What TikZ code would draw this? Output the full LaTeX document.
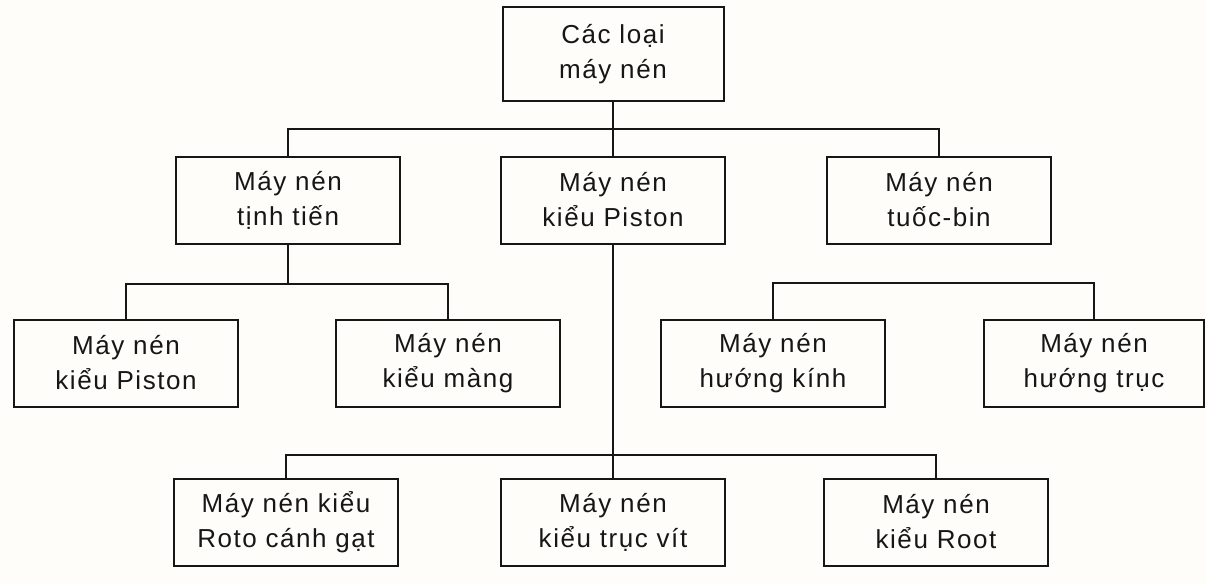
\documentclass[tikz,border=0pt]{standalone}
\usepackage{fontspec}
\newfontfamily\boxfont[LetterSpace=6]{Liberation Sans}
\definecolor{ink}{RGB}{22,22,22}
\definecolor{paper}{RGB}{254,253,250}
\begin{document}
\begin{tikzpicture}[x=1pt,y=-1pt,
  box/.style={draw=ink, line width=2pt, rectangle, minimum width=224pt,
    minimum height=87pt, inner sep=0pt, align=center,
    font={\boxfont\fontsize{26}{35}\selectfont}, text=ink},
  link/.style={draw=ink, line width=2pt}]
\fill[paper] (0,0) rectangle (1207,584);
\useasboundingbox (0,0) rectangle (1207,584);
% level 0
\node[box, minimum width=221pt, minimum height=94pt] (top) at (613,54) {Các loại\\máy nén};
% level 1
\node[box] (tt) at (288,200) {Máy nén\\tịnh tiến};
\node[box] (mp) at (613,200) {Máy nén\\kiểu Piston};
\node[box] (tb) at (939,200) {Máy nén\\tuốc-bin};
% level 2
\node[box] (lp) at (126,363) {Máy nén\\kiểu Piston};
\node[box] (km) at (448,363) {Máy nén\\kiểu màng};
\node[box] (hk) at (773,363) {Máy nén\\hướng kính};
\node[box, minimum width=220pt] (ht) at (1094,363) {Máy nén\\hướng trục};
% level 3
\node[box] (rc) at (286,522) {Máy nén kiểu\\Roto cánh gạt};
\node[box] (tv) at (613,522) {Máy nén\\kiểu trục vít};
\node[box] (rt) at (936,522) {Máy nén\\kiểu Root};
% bar coordinates
\coordinate (b1) at (613,129);
\coordinate (b2) at (288,284);
\coordinate (b3) at (935,283);
\coordinate (b4) at (613,455);
% connectors
\draw[link] (top.south) -- (mp.north);
\draw[link] (tt.north) |- (b1) -| (tb.north);
\draw[link] (tt.south) -- (b2);
\draw[link] (lp.north) |- (b2) -| (km.north);
\draw[link] (hk.north) |- (b3) -| (ht.north);
\draw[link] (mp.south) -- (tv.north);
\draw[link] (rc.north) |- (b4) -| (rt.north);
\end{tikzpicture}
\end{document}
